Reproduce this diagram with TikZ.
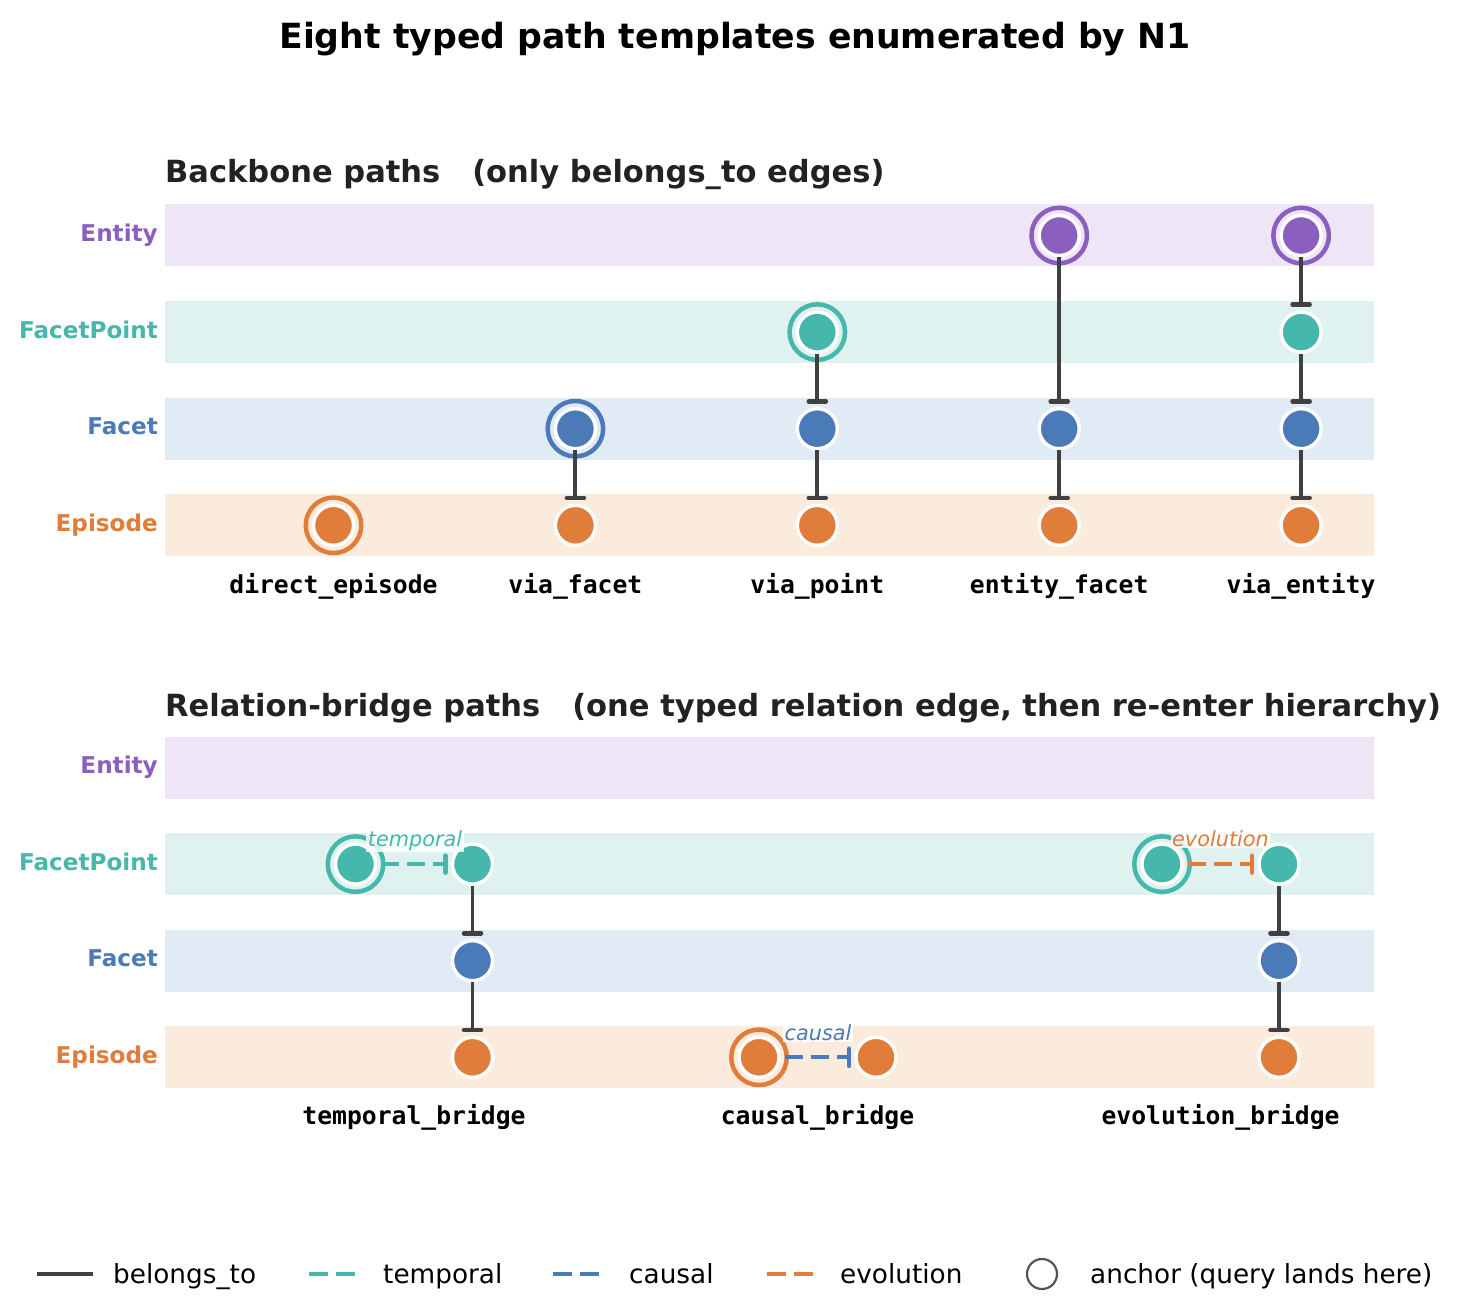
\documentclass[tikz,border=0pt]{standalone}
\usepackage{fontspec}
\setmainfont{DejaVu Sans}
\setmonofont{DejaVu Sans Mono}
\usetikzlibrary{arrows.meta}
\definecolor{cEnt}{HTML}{8B5FBF}
\definecolor{cFP}{HTML}{46B7AB}
\definecolor{cFac}{HTML}{4A7AB8}
\definecolor{cEpi}{HTML}{E07D3B}
\definecolor{bEnt}{HTML}{EEE6F6}
\definecolor{bFP}{HTML}{E0F2EF}
\definecolor{bFac}{HTML}{E1EBF5}
\definecolor{bEpi}{HTML}{FBEBDD}
\definecolor{edgec}{HTML}{404040}
\definecolor{ink}{HTML}{222222}
\definecolor{leggray}{HTML}{555555}
\begin{document}
\begin{tikzpicture}[x=1bp,y=-1bp,
  pnode/.style={circle,inner sep=0pt,minimum size=40bp,line width=3.4bp,draw=white,fill=#1},
  ringst/.style={circle,inner sep=0pt,minimum size=55.5bp,line width=4.5bp,draw=#1},
  belong/.style={draw=edgec,line width=3.9bp,-{Bar[width=17bp,line width=4.6bp,round]},shorten >=3.5bp},
  rel/.style={draw=#1,line width=3.9bp,dash pattern=on 18bp off 8bp,-{Bar[width=17bp,line width=4.6bp,round]},shorten >=3bp,shorten <=4bp},
  rowlab/.style={anchor=base east,inner sep=0pt,font=\bfseries\fontsize{23.2}{28}\selectfont,text=#1},
  collab/.style={anchor=base,inner sep=0pt,font=\ttfamily\bfseries\fontsize{24.8}{30}\selectfont,text=black},
  rellab/.style={anchor=base,font=\itshape\fontsize{20.9}{25}\selectfont,text=#1,fill=white,fill opacity=0.8,text opacity=1,inner sep=1.5bp},
  paneltitle/.style={anchor=base west,inner sep=0pt,font=\bfseries\fontsize{30.65}{36}\selectfont,text=ink},
  legtxt/.style={anchor=base west,inner sep=0pt,font=\fontsize{26.4}{31}\selectfont,text=black},
  legline/.style={line width=3.9bp,draw=#1},
  legdash/.style={line width=3.9bp,draw=#1,dash pattern=on 19bp off 8bp},
]
\useasboundingbox (0,0) rectangle (1459,1311);
\fill[white] (0,0) rectangle (1459,1311);

% title
\node[anchor=base,inner sep=0pt,font=\bfseries\fontsize{34.8}{40}\selectfont,text=black] (title) at (735,49) {Eight typed path templates enumerated by N1};

% ---------- top panel ----------
\node[paneltitle] (pt1) at (165,183) {Backbone paths\ \ \ (only belongs\_to edges)};
\foreach \y/\c in {235.5/bEnt,332.1/bFP,428.7/bFac,525.3/bEpi} {
  \fill[\c] (165,\y-31) rectangle (1374,\y+31);
}
\node[rowlab=cEnt] (tlE) at (158,241.5) {Entity};
\node[rowlab=cFP] (tlP) at (158,338.1) {FacetPoint};
\node[rowlab=cFac] (tlF) at (158,434.7) {Facet};
\node[rowlab=cEpi] (tlS) at (158,531.3) {Episode};

% anchors rings
\node[ringst=cEpi] (r1) at (333.5,525.3) {};
\node[ringst=cFac] (r2) at (575.4,428.7) {};
\node[ringst=cFP]  (r3) at (817.3,332.1) {};
\node[ringst=cEnt] (r4) at (1059.2,235.5) {};
\node[ringst=cEnt] (r5) at (1301.1,235.5) {};

% nodes
\node[pnode=cEpi] (a1) at (333.5,525.3) {};

\node[pnode=cFac] (b2) at (575.4,428.7) {};
\node[pnode=cEpi] (b1) at (575.4,525.3) {};

\node[pnode=cFP]  (c3) at (817.3,332.1) {};
\node[pnode=cFac] (c2) at (817.3,428.7) {};
\node[pnode=cEpi] (c1) at (817.3,525.3) {};

\node[pnode=cEnt] (d4) at (1059.2,235.5) {};
\node[pnode=cFac] (d2) at (1059.2,428.7) {};
\node[pnode=cEpi] (d1) at (1059.2,525.3) {};

\node[pnode=cEnt] (e4) at (1301.1,235.5) {};
\node[pnode=cFP]  (e3) at (1301.1,332.1) {};
\node[pnode=cFac] (e2) at (1301.1,428.7) {};
\node[pnode=cEpi] (e1) at (1301.1,525.3) {};

\draw[belong] (b2) -- (b1);
\draw[belong] (c3) -- (c2);
\draw[belong] (c2) -- (c1);
\draw[belong] (d4) -- (d2);
\draw[belong] (d2) -- (d1);
\draw[belong] (e4) -- (e3);
\draw[belong] (e3) -- (e2);
\draw[belong] (e2) -- (e1);

\node[collab] (ct1) at (333.5,593) {direct\_episode};
\node[collab] (ct2) at (575.4,593) {via\_facet};
\node[collab] (ct3) at (817.3,593) {via\_point};
\node[collab] (ct4) at (1059.2,593) {entity\_facet};
\node[collab] (ct5) at (1301.1,593) {via\_entity};

% ---------- bottom panel ----------
\node[paneltitle] (pt2) at (165,716) {Relation-bridge paths\ \ \ (one typed relation edge, then re-enter hierarchy)};
\foreach \y/\c in {767.5/bEnt,864.1/bFP,960.7/bFac,1057.3/bEpi} {
  \fill[\c] (165,\y-31) rectangle (1374,\y+31);
}
\node[rowlab=cEnt] (blE) at (158,773.5) {Entity};
\node[rowlab=cFP] (blP) at (158,870.1) {FacetPoint};
\node[rowlab=cFac] (blF) at (158,966.7) {Facet};
\node[rowlab=cEpi] (blS) at (158,1063.3) {Episode};

\node[ringst=cFP]  (r6) at (355.5,864.1) {};
\node[ringst=cEpi] (r7) at (759,1057.3) {};
\node[ringst=cFP]  (r8) at (1162,864.1) {};

\node[pnode=cFP]  (t0) at (355.5,864.1) {};
\node[pnode=cFP]  (t3) at (472.5,864.1) {};
\node[pnode=cFac] (t2) at (472.5,960.7) {};
\node[pnode=cEpi] (t1) at (472.5,1057.3) {};

\node[pnode=cEpi] (k0) at (759,1057.3) {};
\node[pnode=cEpi] (k1) at (876,1057.3) {};

\node[pnode=cFP]  (v0) at (1162,864.1) {};
\node[pnode=cFP]  (v3) at (1279,864.1) {};
\node[pnode=cFac] (v2) at (1279,960.7) {};
\node[pnode=cEpi] (v1) at (1279,1057.3) {};

\draw[rel=cFP] (t0) -- (t3);
\draw[belong] (t3) -- (t2);
\draw[belong] (t2) -- (t1);
\draw[rel=cFac] (k0) -- (k1);
\draw[rel=cEpi] (v0) -- (v3);
\draw[belong] (v3) -- (v2);
\draw[belong] (v2) -- (v1);

\node[rellab=cFP]  (lt) at (415,846) {temporal};
\node[rellab=cFac] (lk) at (818,1040) {causal};
\node[rellab=cEpi] (lv) at (1220.5,846) {evolution};

\node[collab] (cb1) at (414,1124.5) {temporal\_bridge};
\node[collab] (cb2) at (817.5,1124.5) {causal\_bridge};
\node[collab] (cb3) at (1220.5,1124.5) {evolution\_bridge};

% ---------- legend ----------
\coordinate (g1a) at (37,1274); \coordinate (g1b) at (93,1274);
\coordinate (g2a) at (309,1274); \coordinate (g2b) at (355,1274);
\coordinate (g3a) at (553,1274); \coordinate (g3b) at (599,1274);
\coordinate (g4a) at (767,1274); \coordinate (g4b) at (813,1274);
\draw[legline=edgec] (g1a) -- (g1b);
\draw[legdash=cFP] (g2a) -- (g2b);
\draw[legdash=cFac] (g3a) -- (g3b);
\draw[legdash=cEpi] (g4a) -- (g4b);
\node[circle,draw=leggray,line width=2.2bp,minimum size=30bp,inner sep=0pt] (gA) at (1042,1274) {};
\node[legtxt] (gt1) at (113,1283.3) {belongs\_to};
\node[legtxt] (gt2) at (383,1283.3) {temporal};
\node[legtxt] (gt3) at (629,1283.3) {causal};
\node[legtxt] (gt4) at (840,1283.3) {evolution};
\node[legtxt] (gt5) at (1090,1283.3) {anchor (query lands here)};
\end{tikzpicture}
\end{document}
